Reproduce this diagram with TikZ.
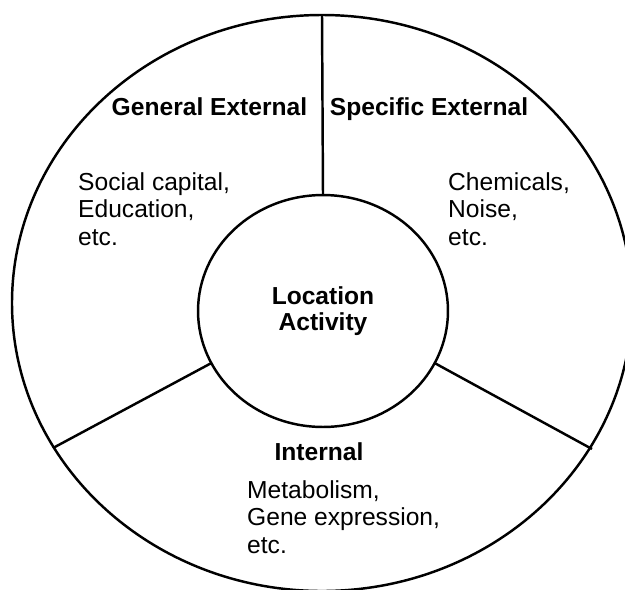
\documentclass[tikz,border=0pt]{standalone}
\usepackage{fontspec}
\setmainfont{Liberation Sans}
\usetikzlibrary{positioning,shapes.geometric}

\begin{document}
\begin{tikzpicture}[x=0.02cm,y=0.02cm,line width=1.4pt,
		hub/.style={draw,ellipse,minimum width=5cm,minimum height=4.64cm,outer sep=0pt,align=center,font=\fontsize{14}{14.8}\selectfont\bfseries},
		head/.style={anchor=base,font=\fontsize{14}{15.6}\selectfont\bfseries},
		note/.style={anchor=base west,align=left,font=\fontsize{14}{15.6}\selectfont}]
		\tikzstyle{every node}+=[inner sep=0pt]
		\useasboundingbox (0,0) rectangle (625,-589);
		\clip (0,0) rectangle (625,-589);
		\draw [black] (322,-303) ellipse (310 and 288);
		\node [hub] (loc) at (323,-311) {Location\\Activity};
		\coordinate (top) at (322,-15);
		\coordinate (gl) at (53,-448);
		\coordinate (gr) at (592,-449);
		\draw [black] (loc.north) -- (top);
		\draw [black] (loc.205) -- (gl);
		\draw [black] (loc.335) -- (gr);
		\node [head] (gen) at (209.5,-115) {General External};
		\node [head] (spec) at (429,-115) {Specific External};
		\node [head] (int) at (319,-460) {Internal};
		\node [note] (gennote) at (77,-245) {Social capital,\\Education,\\etc.};
		\node [note] (specnote) at (447,-245) {Chemicals,\\Noise,\\etc.};
		\node [note] (intnote) at (246,-553) {Metabolism,\\Gene expression,\\etc.};
\end{tikzpicture}
\end{document}
